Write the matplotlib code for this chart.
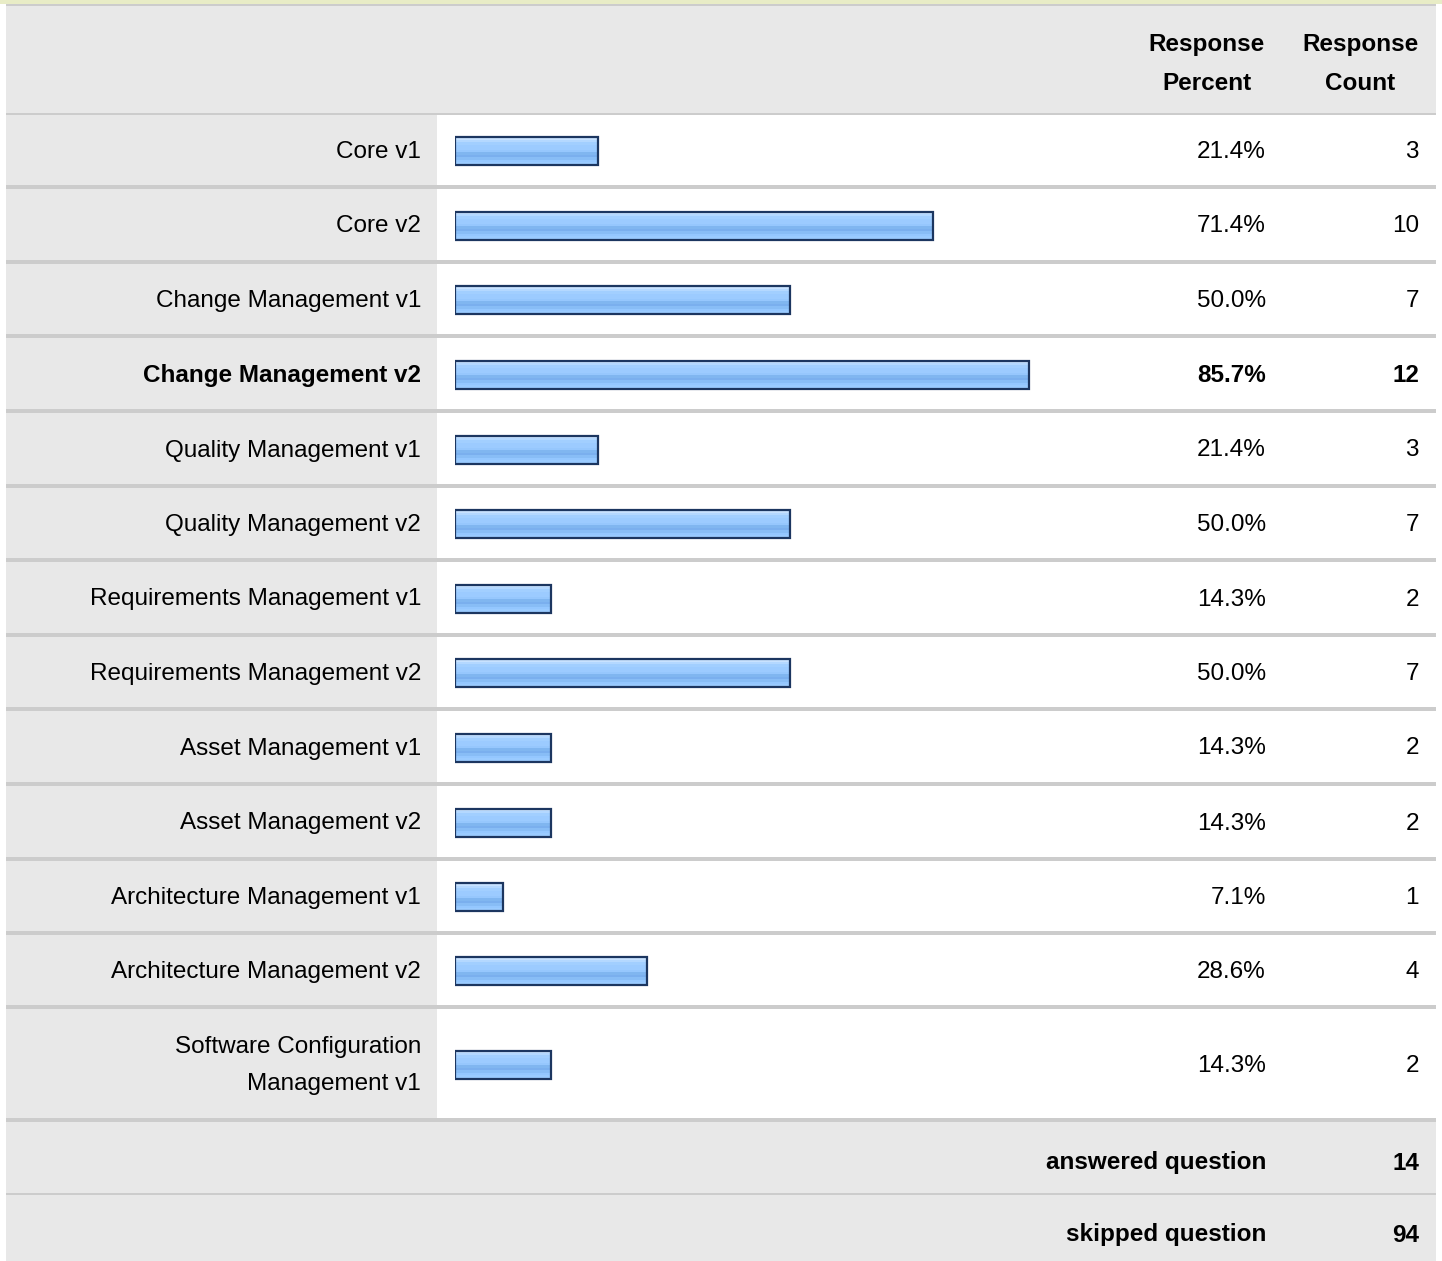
import numpy as np
import matplotlib.pyplot as plt
from matplotlib.patches import Rectangle
from matplotlib.colors import to_rgb

plt.rcParams['font.family'] = ['Liberation Sans', 'DejaVu Sans']

# survey answers
labels = ['Core v1', 'Core v2', 'Change Management v1', 'Change Management v2',
          'Quality Management v1', 'Quality Management v2',
          'Requirements Management v1', 'Requirements Management v2',
          'Asset Management v1', 'Asset Management v2',
          'Architecture Management v1', 'Architecture Management v2',
          'Software Configuration\nManagement v1']
percent = [21.4, 71.4, 50.0, 85.7, 21.4, 50.0, 14.3, 50.0, 14.3, 14.3, 7.1, 28.6, 14.3]
counts = [3, 10, 7, 12, 3, 7, 2, 7, 2, 2, 1, 4, 2]
answered = 14
skipped = 94

W, H = 1442, 1261
GRAY = '#e8e8e8'
LINE = '#cccccc'
TXT = '#000000'
FS = 17.5
DY = 2  # nudge text down so caps sit centred in the row
LS = 1.85

fig = plt.figure(figsize=(W / 100, H / 100), dpi=100)
ax = fig.add_axes([0, 0, 1, 1])
ax.set_xlim(0, W)
ax.set_ylim(H, 0)
ax.axis('off')

left, right = 6, 1436
lab_w = 437

# top strip + header
ax.add_patch(Rectangle((0, 0), W, 4, color='#e8ecc6', lw=0))
ax.add_patch(Rectangle((left, 4), right - left, 2, color=LINE, lw=0))
ax.add_patch(Rectangle((left, 6), right - left, 107, color=GRAY, lw=0))
ax.add_patch(Rectangle((left, 113), right - left, 2, color=LINE, lw=0))

# row boundaries (top of each separator)
seps = [185, 260, 334, 409, 484, 558, 633, 707, 782, 857, 931, 1005, 1118]
tops = [115] + [s + 4 for s in seps[:-1]]
bottoms = seps
centers = []
for t, b in zip(tops, bottoms):
    ax.add_patch(Rectangle((left, t), lab_w - left, b - t, color=GRAY, lw=0))
    ax.add_patch(Rectangle((lab_w, t), right - lab_w, b - t, color='white', lw=0))
    centers.append((t + b) / 2)
for s in seps:
    ax.add_patch(Rectangle((left, s), right - left, 4, color=LINE, lw=0))

# answered / skipped rows
ax.add_patch(Rectangle((left, 1122), right - left, 71, color=GRAY, lw=0))
ax.add_patch(Rectangle((left, 1193), right - left, 2, color=LINE, lw=0))
ax.add_patch(Rectangle((left, 1195), right - left, H - 1195, color=GRAY, lw=0))

# header text
x_pct, x_cnt = 1266, 1419
ax.text(1207, 62 + DY, 'Response\nPercent', ha='center', va='center', fontsize=FS,
        fontweight='bold', color=TXT, linespacing=LS)
ax.text(1360, 62 + DY, 'Response\nCount', ha='center', va='center', fontsize=FS,
        fontweight='bold', color=TXT, linespacing=LS)

for lab, p, c, y in zip(labels, percent, counts, centers):
    fw = 'bold' if c == max(counts) else 'normal'
    ax.text(421, y + DY, lab, ha='right', va='center', fontsize=FS, fontweight=fw,
            color=TXT, linespacing=LS)
    ax.text(x_pct, y + DY, f'{p:.1f}%', ha='right', va='center', fontsize=FS,
            fontweight=fw, color=TXT)
    ax.text(x_cnt, y + DY, str(c), ha='right', va='center', fontsize=FS,
            fontweight=fw, color=TXT)

ax.text(x_pct, 1161 + DY, 'answered question', ha='right', va='center', fontsize=FS,
        fontweight='bold', color=TXT)
ax.text(x_cnt, 1161 + DY, str(answered), ha='right', va='center', fontsize=FS,
        fontweight='bold', color=TXT)
ax.text(x_pct, 1233 + DY, 'skipped question', ha='right', va='center', fontsize=FS,
        fontweight='bold', color=TXT)
ax.text(x_cnt, 1233 + DY, str(skipped), ha='right', va='center', fontsize=FS,
        fontweight='bold', color=TXT)

# bars: x axis in percent, y shares pixel rows with the table
bx = fig.add_axes([455 / W, 0, 670 / W, 1])
bx.axis('off')

stripes = ['#c8e2ff', '#b4d8ff', '#a2cfff', '#9ccbff', '#9ccbff', '#96c7fd',
           '#80b6f0', '#7aafee', '#88bdf6', '#94c7ff', '#9acbff']
grad = np.array([to_rgb(s) for s in stripes])[:, None, :]
bh = 28
for p, y in zip(percent, centers):
    bx.imshow(grad, extent=(0, p, y + 1 + bh / 2, y + 1 - bh / 2), aspect='auto',
              interpolation='nearest', zorder=2)
bx.barh([y + 1 for y in centers], percent, height=bh, left=0, facecolor='none',
        edgecolor='#1c3660', linewidth=1.6, zorder=3)
bx.set_xlim(0, 100)
bx.set_ylim(H, 0)

fig.savefig('out.png', dpi=100)
